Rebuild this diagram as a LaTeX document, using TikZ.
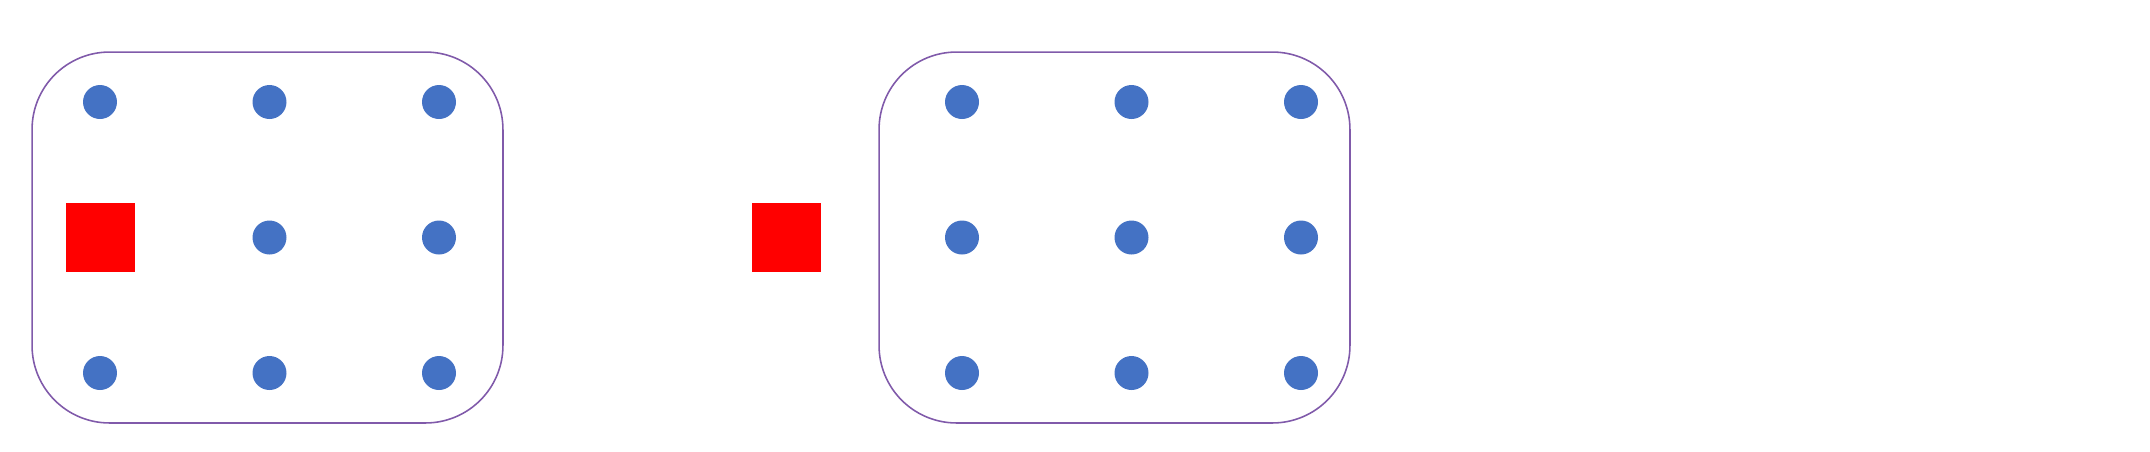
\documentclass[tikz,border=0pt]{standalone}
\usepackage{tikz}
\usetikzlibrary{positioning}
\usepackage{xcolor}
\definecolor{dotblue}{HTML}{4472C4}
\definecolor{framepurple}{RGB}{128,90,170}

\begin{document}
\begin{tikzpicture}[
  x=0.02cm, y=-0.02cm,
  Frame/.style={draw=framepurple, line width=0.9pt, rectangle,
                rounded corners=1.55cm, minimum width=9.42cm,
                minimum height=7.42cm, inner sep=0pt},
  D/.style={circle, fill=dotblue, draw=none, minimum size=0.68cm,
            inner sep=0pt},
  Sq/.style={rectangle, fill=red, draw=none, minimum size=1.38cm,
             inner sep=0pt},
]
\useasboundingbox (0,0) rectangle (2150,451);

%% ---- left frame ----
\node[Frame] (lbox) at (267.5,237.5) {};

\node[D] (l11) at (100,102)   {};
\node[D] (l12) at (269.5,102) {};
\node[D] (l13) at (439,102)   {};
\node[Sq] (lsq) at (100.5,237.5) {};
\node[D] (l22) at (269.5,237.5) {};
\node[D] (l23) at (439,237.5)   {};
\node[D] (l31) at (100,373)   {};
\node[D] (l32) at (269.5,373) {};
\node[D] (l33) at (439,373)   {};

%% ---- square outside ----
\node[Sq] (rsq) at (786.5,237.5) {};

%% ---- right frame ----
\node[Frame] (rbox) at (1114.5,237.5) {};

\node[D] (r11) at (962,102)    {};
\node[D] (r12) at (1131.5,102) {};
\node[D] (r13) at (1301,102)   {};
\node[D] (r21) at (962,237.5)    {};
\node[D] (r22) at (1131.5,237.5) {};
\node[D] (r23) at (1301,237.5)   {};
\node[D] (r31) at (962,373)    {};
\node[D] (r32) at (1131.5,373) {};
\node[D] (r33) at (1301,373)   {};

\end{tikzpicture}
\end{document}
